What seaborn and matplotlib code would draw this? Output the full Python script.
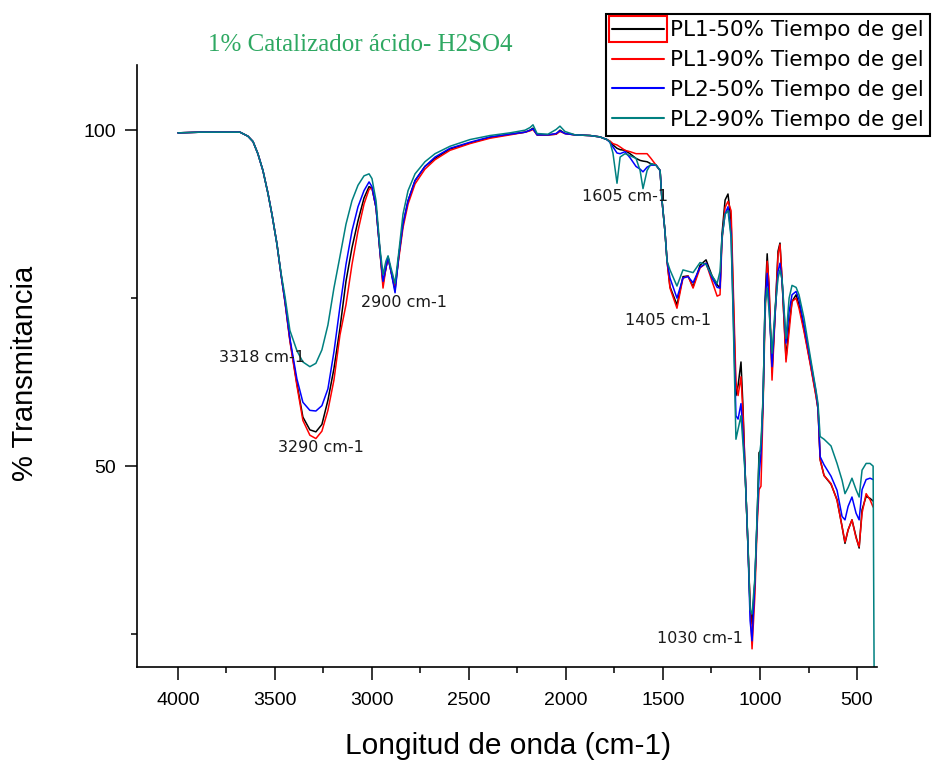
import matplotlib
matplotlib.use("Agg")
import matplotlib.pyplot as plt
import pandas as pd
import seaborn as sns
from matplotlib.patches import Rectangle
from matplotlib.ticker import MultipleLocator

# ---------------- data ----------------
wavenumber = [4000, 3887, 3783, 3680, 3639, 3613, 3588, 3562, 3536, 3515,
              3490, 3469, 3448, 3423, 3387, 3356, 3320, 3289, 3258, 3227,
              3196, 3165, 3134, 3103, 3072, 3041, 3015, 3000, 2979, 2959,
              2943, 2928, 2917, 2902, 2881, 2861, 2840, 2814, 2778, 2727,
              2675, 2598, 2495, 2392, 2289, 2211, 2185, 2170, 2149, 2093,
              2051, 2031, 2005, 1953, 1876, 1825, 1789, 1774, 1758, 1737,
              1721, 1696, 1670, 1639, 1618, 1603, 1582, 1562, 1536, 1515,
              1505, 1490, 1479, 1464, 1428, 1397, 1371, 1345, 1309, 1278,
              1247, 1221, 1206, 1196, 1180, 1165, 1149, 1139, 1124, 1113,
              1098, 1088, 1077, 1062, 1051, 1041, 1026, 1015, 1005, 995,
              984, 974, 963, 953, 938, 922, 907, 897, 886, 866,
              850, 835, 814, 799, 773, 742, 711, 701, 690, 670,
              634, 603, 577, 562, 546, 526, 505, 489, 474, 453,
              433, 417]

pl1_50 = [99.6, 99.7, 99.7, 99.7, 99.1, 98.3, 96.5, 94.0, 90.6, 87.4,
          83.1, 78.6, 74.5, 68.8, 62.3, 57.3, 55.4, 55.1, 56.2, 59.8,
          64.5, 70.5, 77.5, 82.5, 86.5, 89.9, 91.6, 91.4, 88.5, 82.0,
          77.2, 79.5, 81.1, 79.0, 76.2, 81.5, 86.0, 89.5, 92.5, 94.6,
          95.8, 97.2, 98.1, 98.9, 99.4, 99.7, 100.0, 100.3, 99.3, 99.3,
          99.4, 100.0, 99.5, 99.3, 99.2, 99.0, 98.6, 98.3, 97.8, 97.3,
          97.1, 97.0, 96.5, 95.8, 95.5, 95.4, 95.3, 95.0, 94.8, 94.0,
          89.5, 85.0, 80.5, 76.7, 74.0, 78.2, 78.3, 76.7, 79.9, 80.7,
          78.3, 77.0, 76.5, 84.5, 89.6, 90.5, 86.5, 76.0, 60.5, 62.0,
          65.5, 59.0, 49.4, 38.0, 29.0, 26.5, 33.0, 42.0, 52.0, 52.4,
          60.0, 74.7, 81.6, 76.0, 64.0, 72.8, 82.0, 83.2, 77.5, 66.0,
          71.0, 74.5, 75.5, 74.0, 70.3, 65.5, 60.5, 58.5, 51.0, 48.6,
          47.3, 45.0, 41.0, 38.5, 40.5, 42.0, 39.5, 37.8, 43.5, 45.5,
          45.2, 44.8]

pl1_90 = [99.6, 99.7, 99.7, 99.7, 99.1, 98.3, 96.5, 94.0, 90.6, 87.4,
          83.1, 78.6, 74.3, 68.6, 62.0, 56.8, 54.6, 54.1, 55.2, 58.3,
          62.8, 69.5, 74.0, 80.0, 85.0, 89.0, 91.2, 91.4, 88.5, 82.0,
          76.5, 79.5, 81.0, 79.0, 76.8, 81.0, 85.5, 89.0, 92.0, 94.2,
          95.6, 97.0, 98.0, 98.8, 99.3, 99.7, 99.9, 100.1, 99.3, 99.3,
          99.4, 99.8, 99.5, 99.3, 99.2, 99.0, 98.6, 98.4, 98.0, 97.8,
          97.5, 97.0, 96.8, 96.5, 96.5, 96.5, 96.5, 95.8, 94.8, 94.0,
          89.5, 85.0, 80.5, 76.5, 73.5, 78.0, 78.3, 76.5, 79.5, 80.2,
          77.5, 75.3, 75.5, 83.5, 88.5, 89.4, 88.0, 78.0, 62.5, 60.5,
          63.3, 58.0, 49.4, 38.0, 29.5, 22.8, 31.0, 41.0, 46.5, 47.0,
          59.0, 72.0, 80.5, 77.0, 62.8, 72.5, 81.5, 83.0, 77.5, 65.5,
          70.0, 74.5, 75.0, 73.5, 70.0, 65.3, 60.3, 58.5, 50.9, 48.6,
          47.4, 44.9, 41.0, 38.7, 40.5, 42.0, 39.3, 38.0, 43.0, 45.9,
          45.0, 43.9]

pl2_50 = [99.6, 99.7, 99.7, 99.7, 99.1, 98.3, 96.5, 94.0, 90.6, 87.4,
          83.1, 78.6, 74.5, 69.0, 63.0, 59.5, 58.3, 58.2, 59.0, 61.5,
          67.0, 73.7, 80.0, 85.0, 88.6, 91.0, 92.3, 91.6, 88.5, 82.0,
          77.5, 79.5, 81.1, 79.0, 75.8, 81.5, 86.0, 89.5, 92.5, 94.6,
          96.0, 97.3, 98.2, 99.0, 99.4, 99.7, 100.0, 100.2, 99.3, 99.3,
          99.5, 99.9, 99.5, 99.3, 99.2, 99.0, 98.6, 98.2, 97.5, 96.6,
          96.5, 96.8, 95.9, 94.6, 94.2, 93.8, 94.5, 94.8, 94.8, 94.0,
          89.5, 85.0, 80.5, 78.0, 75.0, 78.0, 78.2, 77.3, 79.6, 80.2,
          78.0, 76.6, 76.5, 84.0, 87.5, 88.6, 84.5, 74.0, 57.5, 57.0,
          59.3, 55.0, 49.4, 38.0, 27.0, 24.0, 33.0, 42.0, 48.5, 52.0,
          60.0, 74.0, 78.7, 74.0, 64.8, 72.8, 79.0, 80.2, 77.5, 68.3,
          73.0, 75.5, 76.0, 74.8, 71.0, 66.0, 61.0, 58.7, 51.4, 50.2,
          48.5, 46.4, 42.5, 42.0, 44.0, 45.4, 43.0, 42.0, 46.5, 48.0,
          48.2, 48.0]

pl2_90 = [99.6, 99.7, 99.7, 99.7, 99.1, 98.3, 96.5, 94.0, 90.6, 87.4,
          83.1, 78.8, 75.2, 70.2, 67.2, 65.5, 64.8, 65.3, 67.3, 71.0,
          76.5, 81.2, 86.0, 89.5, 91.8, 93.2, 93.5, 92.8, 89.5, 82.5,
          78.5, 80.5, 81.3, 79.5, 77.2, 82.0, 87.5, 91.0, 93.5, 95.3,
          96.5, 97.6, 98.6, 99.2, 99.6, 100.0, 100.4, 100.8, 99.5, 99.4,
          100.1, 100.6, 99.8, 99.3, 99.2, 99.0, 98.6, 98.3, 96.6, 92.1,
          96.0, 96.5, 96.2, 95.8, 94.0, 91.3, 94.0, 95.0, 94.8, 94.0,
          89.5, 85.0, 80.5, 79.2, 76.8, 79.2, 79.0, 78.8, 80.3, 80.0,
          78.3, 77.2, 79.0, 84.0, 87.5, 88.0, 84.0, 73.0, 54.0, 55.5,
          57.5, 53.5, 49.0, 38.5, 28.6, 28.0, 33.5, 42.5, 51.0, 53.5,
          60.5, 74.0, 76.5, 73.0, 66.8, 73.5, 78.0, 79.2, 77.7, 69.0,
          75.0, 76.9, 76.6, 75.5, 72.0, 66.5, 61.2, 59.3, 54.4, 54.0,
          53.0, 50.4, 47.9, 45.9, 46.8, 48.2, 46.5, 45.4, 49.4, 50.4,
          50.4, 50.0]
# PL2-90% spectrum ends with a drop to the axis floor
pl2_90_end_wn = [412]
pl2_90_end_t = [20.0]

series_labels = ["PL1-50% Tiempo de gel", "PL1-90% Tiempo de gel",
                 "PL2-50% Tiempo de gel", "PL2-90% Tiempo de gel"]
series_colors = ["#000000", "#ff0000", "#0000ff", "#008080"]

peak_labels = ["3318 cm-1", "3290 cm-1", "2900 cm-1", "1605 cm-1", "1405 cm-1", "1030 cm-1"]
peak_label_x = [3567, 3263, 2835, 1696, 1474, 1309]
peak_label_y = [66.2, 52.8, 74.4, 90.2, 71.6, 24.4]

# ---------------- build long table ----------------
frames = []
for lab, vals in zip(series_labels, [pl1_50, pl1_90, pl2_50, pl2_90]):
    wn = list(wavenumber)
    tv = list(vals)
    if lab == series_labels[3]:
        wn += pl2_90_end_wn
        tv += pl2_90_end_t
    frames.append(pd.DataFrame({"wn": wn, "T": tv, "serie": lab}))
df = pd.concat(frames, ignore_index=True)

# ---------------- figure ----------------
sns.set_style("ticks")
plt.rcParams["font.family"] = ["Liberation Sans", "DejaVu Sans"]
plt.rcParams["text.color"] = "black"
plt.rcParams["axes.labelcolor"] = "black"
plt.rcParams["xtick.color"] = "black"
plt.rcParams["ytick.color"] = "black"

W, H = 936, 760
fig = plt.figure(figsize=(W / 100, H / 100), dpi=100)
ax = fig.add_axes([137 / W, 1 - 667 / H, (877 - 137) / W, (667 - 65) / H])

sns.lineplot(data=df, x="wn", y="T", hue="serie", hue_order=series_labels,
             palette=dict(zip(series_labels, series_colors)),
             sort=False, estimator=None, linewidth=1.1, ax=ax)

ax.set_xlim(4211, 397)
ax.set_ylim(20.1, 109.7)
ax.xaxis.set_major_locator(MultipleLocator(500))
ax.xaxis.set_minor_locator(MultipleLocator(250))
ax.yaxis.set_major_locator(MultipleLocator(50))
ax.yaxis.set_minor_locator(MultipleLocator(25))
ax.tick_params(which="major", length=9, width=1.1, direction="out",
               labelsize=14, colors="black", pad=6)
ax.tick_params(axis="x", which="major", pad=9)
ax.tick_params(which="minor", length=4.5, width=1.1, direction="out")
for s in ["top", "right"]:
    ax.spines[s].set_visible(False)
for s in ["left", "bottom"]:
    ax.spines[s].set_linewidth(1.2)
    ax.spines[s].set_color("black")

ax.set_xlabel("Longitud de onda (cm-1)", fontsize=21.5, color="black")
ax.set_ylabel("% Transmitancia", fontsize=21, color="black")
ax.xaxis.set_label_coords((508 - 137) / 740, (667 - 746) / 602)
ax.xaxis.label.set_va("center")
ax.yaxis.set_label_coords((25 - 137) / 740, (667 - 373) / 602)
ax.yaxis.label.set_va("center")

for txt, x, y in zip(peak_labels, peak_label_x, peak_label_y):
    ax.text(x, y, txt, fontsize=11.5, family="DejaVu Sans", color="#1a1a1a",
            ha="center", va="center")

handles, labels = ax.get_legend_handles_labels()
leg = ax.legend(handles, labels, loc="upper left",
                bbox_to_anchor=(606 / W, 1 - 14 / H), bbox_transform=fig.transFigure,
                frameon=True, fancybox=False, edgecolor="black", framealpha=1,
                prop={"family": "DejaVu Sans", "size": 15.5},
                handlelength=2.4, handletextpad=0.25, labelspacing=0.45,
                borderpad=0.3, borderaxespad=0, labelcolor="black")
leg.get_frame().set_linewidth(1.5)
for h in leg.get_lines():
    h.set_linewidth(1.5)

# red selection box around the first legend sample, as in the reference
fig.canvas.draw()
bb = leg.get_lines()[0].get_window_extent(fig.canvas.get_renderer())
x0, x1 = bb.x0 - 3, bb.x1 + 3
yc = 0.5 * (bb.y0 + bb.y1)
fig.add_artist(Rectangle((x0 / W, (yc - 13) / H), (x1 - x0) / W, 26 / H,
                         transform=fig.transFigure, fill=False,
                         edgecolor="red", lw=1.5, zorder=10))

fig.text(360 / W, 1 - 45 / H, "1% Catalizador ácido- H2SO4", color="#2ea862",
         fontsize=18, family="Liberation Serif", ha="center", va="center")

fig.savefig("out.png", dpi=100)
